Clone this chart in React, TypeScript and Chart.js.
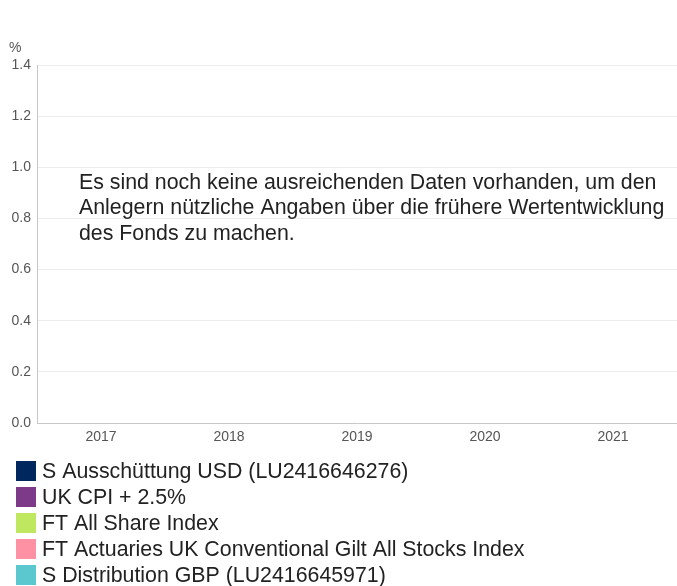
import React, { useEffect, useRef } from "react";
import { Chart, registerables } from "chart.js";

Chart.register(...registerables);

const categories = ["2017", "2018", "2019", "2020", "2021"];
const seriesNames = [
  "S Ausschüttung USD (LU2416646276)",
  "UK CPI + 2.5%",
  "FT All Share Index",
  "FT Actuaries UK Conventional Gilt All Stocks Index",
  "S Distribution GBP (LU2416645971)",
];
const seriesColors = ["#00285f", "#7d3a88", "#bfe860", "#ff91a4", "#5bc7cf"];
// No performance data available yet
const seriesValues: (number | null)[][] = [[], [], [], [], []];
const yTicks = [0, 0.2, 0.4, 0.6, 0.8, 1.0, 1.2, 1.4];
const unitLabel = "%";
const messageLines = [
  "Es sind noch keine ausreichenden Daten vorhanden, um den",
  "Anlegern nützliche Angaben über die frühere Wertentwicklung",
  "des Fonds zu machen.",
];

const FONT = "'Liberation Sans', Arial, Helvetica, sans-serif";

const overlayPlugin = {
  id: "overlay",
  afterDraw(chart: any) {
    const ctx = chart.ctx as CanvasRenderingContext2D;
    ctx.save();
    // unit label
    ctx.font = `14px ${FONT}`;
    ctx.fillStyle = "#555555";
    ctx.textAlign = "left";
    ctx.textBaseline = "middle";
    ctx.fillText(unitLabel, 9, 48);
    // message
    ctx.font = `21.33px ${FONT}`;
    ctx.fillStyle = "#222222";
    ctx.textBaseline = "alphabetic";
    messageLines.forEach((line, i) => {
      ctx.fillText(line, 79, 188.5 + i * 25.5);
    });
    // legend
    const ds = chart.data.datasets;
    ds.forEach((d: any, i: number) => {
      const y = 461 + i * 26;
      ctx.fillStyle = d.backgroundColor;
      ctx.fillRect(16, y, 20, 20);
      ctx.fillStyle = "#222222";
      ctx.font = `21.33px ${FONT}`;
      ctx.textBaseline = "middle";
      ctx.fillText(d.label, 42, y + 11);
    });
    ctx.restore();
  },
};

export default function App() {
  const ref = useRef<HTMLCanvasElement>(null);
  useEffect(() => {
    document.body.style.margin = "0";
    const chart = new Chart(ref.current!, {
      type: "bar",
      data: {
        labels: categories,
        datasets: seriesNames.map((name, i) => ({
          label: name,
          data: seriesValues[i],
          backgroundColor: seriesColors[i],
        })),
      },
      options: {
        animation: false,
        responsive: false,
        maintainAspectRatio: false,
        layout: { padding: { top: 65, left: 0, right: 0, bottom: 133 } },
        plugins: {
          legend: { display: false },
          tooltip: { enabled: false },
        },
        scales: {
          x: {
            grid: { display: false, drawTicks: false },
            border: { display: true, color: "#c8c8c8" },
            ticks: { font: { size: 14, family: FONT }, color: "#555555", padding: 6 },
            afterFit: (s: any) => {
              s.height = 30;
            },
          },
          y: {
            min: 0,
            max: 1.4,
            afterBuildTicks: (s: any) => {
              s.ticks = yTicks.map((v) => ({ value: v }));
            },
            ticks: {
              font: { size: 14, family: FONT },
              color: "#555555",
              padding: 6,
              callback: (v: any) => Number(v).toFixed(1),
            },
            grid: { color: "#ececec", drawTicks: false },
            border: { display: true, color: "#c8c8c8" },
            afterFit: (s: any) => {
              s.width = 37;
            },
          },
        },
      },
      plugins: [overlayPlugin],
    });
    return () => chart.destroy();
  }, []);
  return (
    <div style={{ position: "fixed", left: 0, top: 0, width: 677, height: 586 }}>
      <canvas ref={ref} width={677} height={586} style={{ width: 677, height: 586 }} />
    </div>
  );
}
